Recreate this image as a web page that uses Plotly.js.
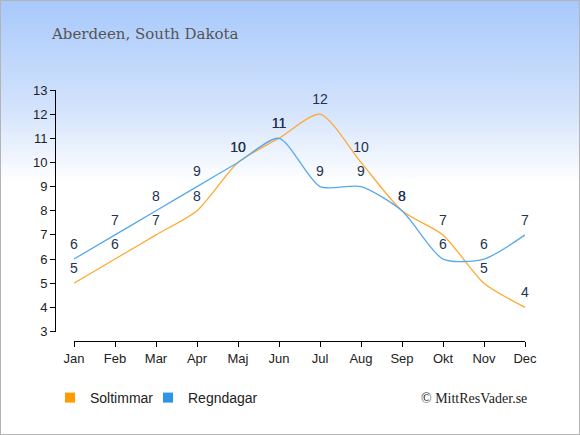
<!DOCTYPE html>
<html><head><meta charset="utf-8">
<script src="https://cdn.plot.ly/plotly-3.0.1.min.js"></script>
<style>
html,body{margin:0;padding:0;}
#wrap{width:578px;height:433px;border:1px solid #b4b4b4;background:linear-gradient(to bottom,#a8c9fb 0%,#d3e3fc 25%,#ffffff 42%,#ffffff 100%);}
#chart{width:578px;height:433px;}
</style></head>
<body><div id="wrap"><div id="chart"></div></div>
<script>
const months = ["Jan","Feb","Mar","Apr","Maj","Jun","Jul","Aug","Sep","Okt","Nov","Dec"];
const soltimmar = [5,6,7,8,10,11,12,10,8,7,5,4];
const regndagar = [6,7,8,9,10,11,9,9,8,6,6,7];
const yTicks = [3,4,5,6,7,8,9,10,11,12,13];

const W=578,H=433;
const L=54,R=524,T=89,B=340;
const pw=R-L, ph=B-T;
const xd0=(73-L)/pw;
const yd0=(B-330.5)/ph;
const labelFont={family:"Liberation Sans, Arial, sans-serif",size:14,color:"#23324f"};
const legFont={family:"Liberation Sans, Arial, sans-serif",size:14,color:"#222"};

const traces=[
 {x:months,y:soltimmar,mode:"lines+markers+text",text:soltimmar.map(String),textposition:"top center",
  textfont:labelFont,line:{color:"#ffa934",width:1.3,shape:"spline",smoothing:0.7},
  marker:{size:9,color:"rgba(0,0,0,0)"},showlegend:false,hoverinfo:"skip",cliponaxis:false},
 {x:months,y:regndagar,mode:"lines+markers+text",text:regndagar.map(String),textposition:"top center",
  textfont:labelFont,line:{color:"#58a9ec",width:1.3,shape:"spline",smoothing:0.7},
  marker:{size:9,color:"rgba(0,0,0,0)"},showlegend:false,hoverinfo:"skip",cliponaxis:false},
 {x:[null],y:[null],mode:"markers",name:"Soltimmar",legend:"legend",marker:{symbol:"square",size:10,color:"#ff9a00"}},
 {x:[null],y:[null],mode:"markers",name:"Regndagar",legend:"legend2",marker:{symbol:"square",size:10,color:"#2f93e8"}}
];

const legBase={orientation:"h",xref:"container",yref:"container",xanchor:"left",yanchor:"middle",
  font:legFont,bgcolor:"rgba(0,0,0,0)",itemwidth:30};

const layout={
 width:W,height:H,
 paper_bgcolor:"rgba(0,0,0,0)",plot_bgcolor:"rgba(0,0,0,0)",
 margin:{l:L,r:W-R,t:T,b:H-B,pad:0},
 title:{text:"Aberdeen, South Dakota",x:51/W,xanchor:"left",y:1-33/H,yanchor:"middle",
  font:{family:"DejaVu Serif, Georgia, serif",size:15,color:"#555555"}},
 xaxis:{type:"category",domain:[xd0,1],range:[0,11],anchor:"free",position:0,
  showline:true,linecolor:"#000",linewidth:1.2,ticks:"outside",ticklen:5,tickcolor:"#000",
  showgrid:false,zeroline:false,fixedrange:true,
  tickfont:{family:"Liberation Sans, Arial, sans-serif",size:13,color:"#222"}},
 yaxis:{domain:[yd0,1],range:[3,13],tickvals:yTicks,anchor:"free",position:0,
  showline:true,linecolor:"#000",linewidth:1.2,ticks:"outside",ticklen:5,tickcolor:"#000",
  showgrid:false,zeroline:false,fixedrange:true,
  tickfont:{family:"Liberation Sans, Arial, sans-serif",size:13,color:"#222"}},
 legend:Object.assign({},legBase,{x:49/W,y:1-397/H}),
 legend2:Object.assign({},legBase,{x:147/W,y:1-397/H}),
 annotations:[{text:"© MittResVader.se",xref:"paper",yref:"paper",x:(528-L)/pw,y:(B-397)/ph,
  xanchor:"right",yanchor:"middle",showarrow:false,
  font:{family:"Liberation Serif, Times New Roman, serif",size:14,color:"#222"}}],
 showlegend:true
};
Plotly.newPlot("chart",traces,layout,{staticPlot:true,displayModeBar:false});
</script></body></html>
